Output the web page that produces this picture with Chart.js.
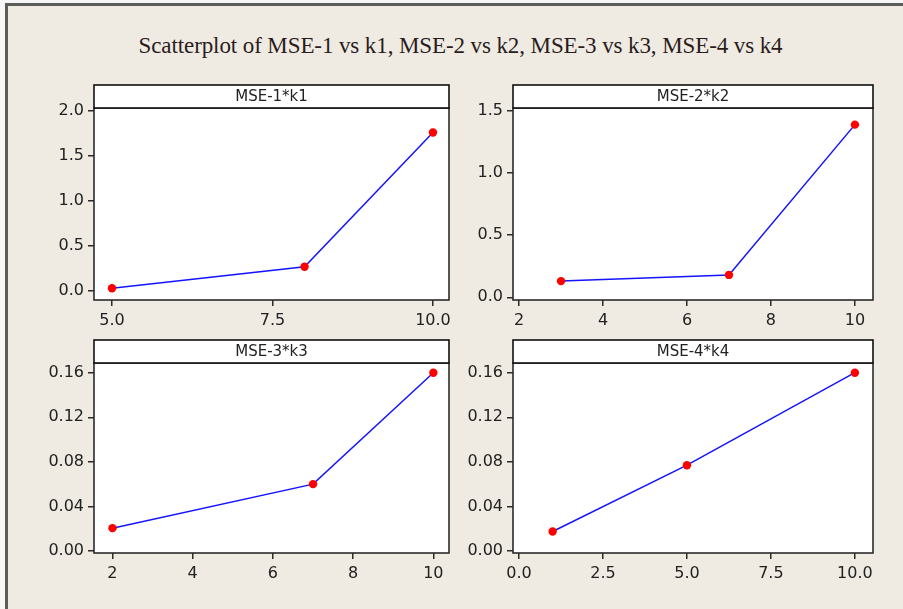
<!DOCTYPE html>
<html>
<head>
<meta charset="utf-8">
<script src="https://cdn.jsdelivr.net/npm/chart.js@4/dist/chart.umd.min.js"></script>
<style>
  html, body { margin: 0; padding: 0; background: #f7f7f7; }
  #frame {
    position: absolute; left: 5px; top: 3px; width: 898px; height: 606px;
    background: #efebe2; border-top: 3px solid #5c5c5c; border-left: 3px solid #5c5c5c;
    box-sizing: border-box;
  }
  #title {
    position: absolute; left: 0; width: 921px; top: 34px; text-align: center;
    font-family: "Liberation Serif", "Times New Roman", serif; font-size: 23px;
    line-height: 23px; color: #2a1c1c; white-space: nowrap; letter-spacing: -0.1px;
  }
  canvas { position: absolute; }
</style>
</head>
<body>
<div id="frame"></div>
<div id="title">Scatterplot of MSE-1 vs k1, MSE-2 vs k2, MSE-3 vs k3, MSE-4 vs k4</div>
<canvas id="c1"></canvas>
<canvas id="c2"></canvas>
<canvas id="c3"></canvas>
<canvas id="c4"></canvas>
<script>
// ---- data ----
const panelTitles = ["MSE-1*k1", "MSE-2*k2", "MSE-3*k3", "MSE-4*k4"];

const k1 = [5, 8, 10];
const mse1 = [0.03, 0.27, 1.76];
const k2 = [3, 7, 10];
const mse2 = [0.13, 0.18, 1.39];
const k3 = [2, 7, 10];
const mse3 = [0.0205, 0.06, 0.16];
const k4 = [1, 5, 10];
const mse4 = [0.0175, 0.077, 0.16];

const xTicks1 = [5, 7.5, 10];
const yTicks1 = [0, 0.5, 1, 1.5, 2];
const xTicks2 = [2, 4, 6, 8, 10];
const yTicks2 = [0, 0.5, 1, 1.5];
const xTicks3 = [2, 4, 6, 8, 10];
const yTicks3 = [0, 0.04, 0.08, 0.12, 0.16];
const xTicks4 = [0, 2.5, 5, 7.5, 10];
const yTicks4 = [0, 0.04, 0.08, 0.12, 0.16];

// ---- layout ----
const panels = [
  { id: "c1", title: panelTitles[0], xs: k1, ys: mse1, xt: xTicks1, yt: yTicks1, xd: 1, yd: 1,
    box: { l: 94, ht: 85, t: 108, r: 449, b: 300 }, xr: [4.72, 10.25], yr: [-0.1, 2.033] },
  { id: "c2", title: panelTitles[1], xs: k2, ys: mse2, xt: xTicks2, yt: yTicks2, xd: 0, yd: 1,
    box: { l: 513, ht: 85, t: 108, r: 873, b: 300 }, xr: [1.857, 10.43], yr: [-0.022, 1.524] },
  { id: "c3", title: panelTitles[2], xs: k3, ys: mse3, xt: xTicks3, yt: yTicks3, xd: 0, yd: 2,
    box: { l: 94, ht: 340, t: 363, r: 449, b: 553 }, xr: [1.54, 10.39], yr: [-0.0018, 0.1687] },
  { id: "c4", title: panelTitles[3], xs: k4, ys: mse4, xt: xTicks4, yt: yTicks4, xd: 1, yd: 2,
    box: { l: 513, ht: 340, t: 363, r: 873, b: 553 }, xr: [-0.18, 10.54], yr: [-0.0018, 0.1687] }
];

const tickFont = { family: "'DejaVu Sans', Verdana, sans-serif", size: 16 };
const axisColor = "#2b2b2b";

const boxPlugin = {
  id: "boxPlugin",
  beforeDraw(chart) {
    const a = chart.chartArea, ctx = chart.ctx;
    ctx.save();
    ctx.fillStyle = "#ffffff";
    ctx.fillRect(a.left, a.top, a.right - a.left, a.bottom - a.top);
    ctx.restore();
  },
  afterDraw(chart) {
    const a = chart.chartArea, ctx = chart.ctx;
    const p = chart.options.plugins.boxPlugin;
    const hh = p.headerH;
    ctx.save();
    ctx.lineWidth = 1.6;
    ctx.strokeStyle = axisColor;
    ctx.strokeRect(a.left, a.top, a.right - a.left, a.bottom - a.top);
    ctx.fillStyle = "#ffffff";
    ctx.fillRect(a.left, a.top - hh, a.right - a.left, hh);
    ctx.strokeStyle = "#111";
    ctx.strokeRect(a.left, a.top - hh, a.right - a.left, hh);
    ctx.fillStyle = "#222";
    ctx.font = "15px 'DejaVu Sans', Verdana, sans-serif";
    ctx.textAlign = "center";
    ctx.textBaseline = "middle";
    ctx.fillText(p.text, (a.left + a.right) / 2, a.top - hh / 2 + 1);
    ctx.restore();
  }
};

panels.forEach(P => {
  const B = P.box;
  const cl = B.l - 62, ct = B.ht - 4, cr = B.r + 14, cb = B.b + 42;
  const cv = document.getElementById(P.id);
  cv.style.left = cl + "px";
  cv.style.top = ct + "px";
  cv.style.width = (cr - cl) + "px";
  cv.style.height = (cb - ct) + "px";
  cv.width = cr - cl;
  cv.height = cb - ct;

  new Chart(cv, {
    type: "scatter",
    data: {
      datasets: [{
        data: P.xs.map((x, i) => ({ x: x, y: P.ys[i] })),
        showLine: true,
        borderColor: "#1414ff",
        borderWidth: 1.5,
        pointBackgroundColor: "#ff0000",
        pointBorderColor: "#ff0000",
        pointRadius: 4.2,
        pointBorderWidth: 0,
        clip: false
      }]
    },
    plugins: [boxPlugin],
    options: {
      responsive: false,
      animation: false,
      events: [],
      layout: { padding: { left: 0, right: cr - B.r, top: B.t - ct, bottom: 0 } },
      plugins: {
        legend: { display: false },
        tooltip: { enabled: false },
        boxPlugin: { text: P.title, headerH: B.t - B.ht }
      },
      scales: {
        x: {
          type: "linear", min: P.xr[0], max: P.xr[1],
          afterBuildTicks: s => { s.ticks = P.xt.map(v => ({ value: v })); },
          afterFit: s => { s.height = cb - B.b; },
          border: { display: false },
          grid: { display: true, drawOnChartArea: false, drawTicks: true, tickLength: 6, color: axisColor, lineWidth: 1.5 },
          ticks: { font: tickFont, color: "#222", padding: 5, maxRotation: 0, autoSkip: false,
                   callback: v => Number(v).toFixed(P.xd) }
        },
        y: {
          type: "linear", min: P.yr[0], max: P.yr[1],
          afterBuildTicks: s => { s.ticks = P.yt.map(v => ({ value: v })); },
          afterFit: s => { s.width = B.l - cl; },
          border: { display: false },
          grid: { display: true, drawOnChartArea: false, drawTicks: true, tickLength: 6, color: axisColor, lineWidth: 1.5 },
          ticks: { font: tickFont, color: "#222", padding: 4, autoSkip: false,
                   callback: v => Number(v).toFixed(P.yd) }
        }
      }
    }
  });
});
</script>
</body>
</html>
